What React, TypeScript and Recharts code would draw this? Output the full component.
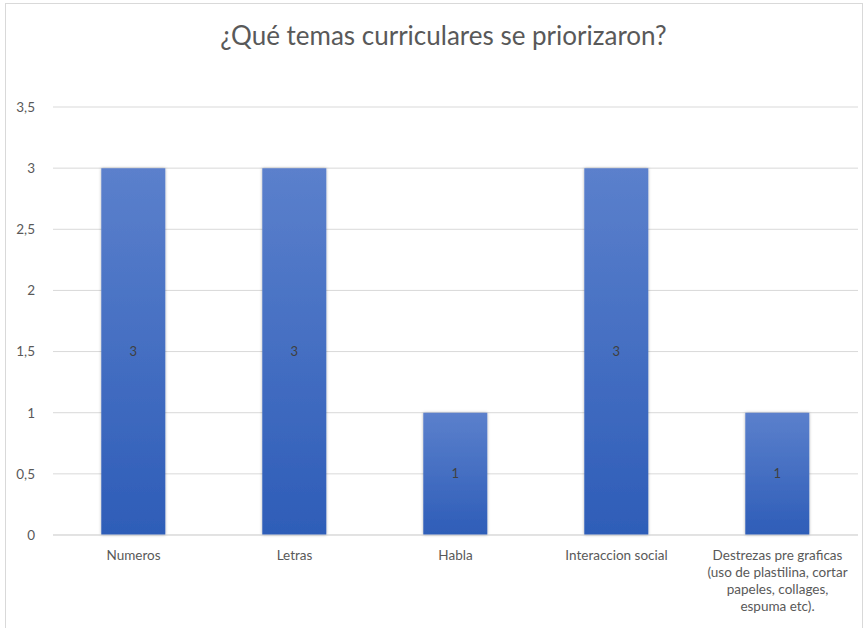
import React from "react";
import { BarChart, Bar, XAxis, YAxis, CartesianGrid, LabelList } from "recharts";

const categories = ["Numeros", "Letras", "Habla", "Interaccion social", "Destrezas pre graficas (uso de plastilina, cortar papeles, collages, espuma etc)."];
const categoryLines = [
  ["Numeros"],
  ["Letras"],
  ["Habla"],
  ["Interaccion social"],
  ["Destrezas pre graficas", "(uso de plastilina, cortar", "papeles, collages,", "espuma etc)."],
];
const values = [3, 3, 1, 3, 1];
const yTicks = [0, 0.5, 1, 1.5, 2, 2.5, 3, 3.5];
const title = "¿Qué temas curriculares se priorizaron?";

const data = categories.map((c, i) => ({ name: c, idx: i, value: values[i] }));

const FONT = "Lato, 'Open Sans', sans-serif";

const CategoryTick = (props: any) => {
  const { x, y, payload } = props;
  const lines = categoryLines[payload.index] || [String(payload.value)];
  return (
    <g transform={`translate(${x},${y})`}>
      {lines.map((l, i) => (
        <text key={i} x={0} y={17 + i * 17} textAnchor="middle" fill="#595959" fontSize={13.5} fontFamily={FONT}>
          {l}
        </text>
      ))}
    </g>
  );
};

export default function App() {
  return (
    <div style={{ position: "absolute", left: 0, top: 0, width: 867, height: 628, background: "#fff", fontFamily: FONT }}>
      <div style={{ position: "absolute", left: 5, top: 3, width: 858, height: 640, border: "1px solid #d9d9d9", boxSizing: "border-box" }} />
      <div style={{ position: "absolute", left: 10, top: 19, width: 867, textAlign: "center", fontSize: 26, color: "#595959", fontFamily: FONT }}>
        {title}
      </div>
      <div style={{ position: "absolute", left: 0, top: 0 }}>
        <BarChart width={867} height={628} data={data} margin={{ top: 107, right: 9, bottom: 0, left: 0 }} barCategoryGap="30%">
          <defs>
            <linearGradient id="barGrad" x1="0" y1="0" x2="0" y2="1">
              <stop offset="0%" stopColor="#5b80cc" />
              <stop offset="100%" stopColor="#2e5db8" />
            </linearGradient>
            <filter id="shadow" x="-20%" y="-5%" width="140%" height="110%">
              <feDropShadow dx="0" dy="0" stdDeviation="1.5" floodColor="#000" floodOpacity="0.3" />
            </filter>
          </defs>
          <CartesianGrid vertical={false} stroke="#d9d9d9" />
          <XAxis
            dataKey="name"
            height={93}
            axisLine={{ stroke: "#d9d9d9" }}
            tickLine={false}
            tick={<CategoryTick />}
            interval={0}
          />
          <YAxis
            width={53}
            domain={[0, 3.5]}
            ticks={yTicks}
            axisLine={false}
            tickLine={false}
            tickMargin={12}
            tick={{ fill: "#595959", fontSize: 13.5, fontFamily: FONT }}
            tickFormatter={(v: number) => String(v).replace(".", ",")}
          />
          <Bar dataKey="value" fill="url(#barGrad)" isAnimationActive={false} filter="url(#shadow)">
            <LabelList dataKey="value" position="center" fill="#404040" fontSize={13} fontFamily={FONT} />
          </Bar>
        </BarChart>
      </div>
    </div>
  );
}
